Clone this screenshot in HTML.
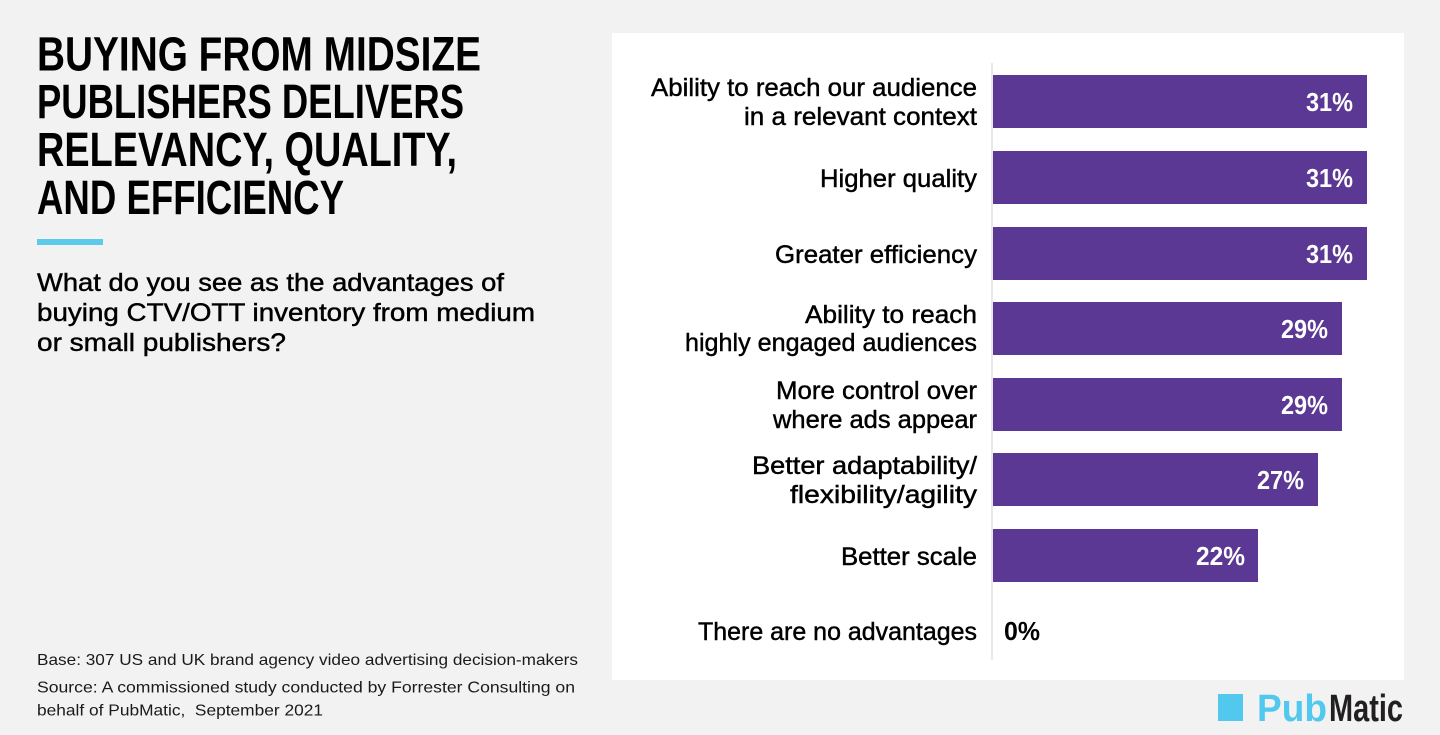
<!DOCTYPE html>
<html>
<head>
<meta charset="utf-8">
<style>
  html, body { margin: 0; padding: 0; background: #f1f2f1; }
  svg { display: block; }
  text { font-family: "Liberation Sans", Arial, sans-serif; }
</style>
</head>
<body>
<svg width="1440" height="735" viewBox="0 0 1440 735" xmlns="http://www.w3.org/2000/svg">
  <rect x="0" y="0" width="1440" height="735" fill="#f1f2f1"/>

  <!-- Title -->
  <g font-weight="bold" font-size="48" fill="#000">
    <text x="37" y="70.5" textLength="444" lengthAdjust="spacingAndGlyphs">BUYING FROM MIDSIZE</text>
    <text x="37" y="118" textLength="427" lengthAdjust="spacingAndGlyphs">PUBLISHERS DELIVERS</text>
    <text x="37" y="166" textLength="420" lengthAdjust="spacingAndGlyphs">RELEVANCY, QUALITY,</text>
    <text x="37" y="214" textLength="307" lengthAdjust="spacingAndGlyphs">AND EFFICIENCY</text>
  </g>

  <!-- Cyan accent -->
  <rect x="37" y="239" width="66" height="6" fill="#5ccbe9"/>

  <!-- Subtitle -->
  <g font-size="25" fill="#000" stroke="#000" stroke-width="0.45">
    <text x="37" y="291" textLength="467" lengthAdjust="spacingAndGlyphs">What do you see as the advantages of</text>
    <text x="37" y="321" textLength="498" lengthAdjust="spacingAndGlyphs">buying CTV/OTT inventory from medium</text>
    <text x="37" y="351" textLength="249" lengthAdjust="spacingAndGlyphs">or small publishers?</text>
  </g>

  <!-- Footnotes -->
  <g font-size="16" fill="#1a1a1a">
    <text x="37" y="665" textLength="541" lengthAdjust="spacingAndGlyphs">Base: 307 US and UK brand agency video advertising decision-makers</text>
    <text x="37" y="692.5" textLength="538" lengthAdjust="spacingAndGlyphs">Source: A commissioned study conducted by Forrester Consulting on</text>
    <text x="37" y="715.5" textLength="286" lengthAdjust="spacingAndGlyphs" xml:space="preserve">behalf of PubMatic,  September 2021</text>
  </g>

  <!-- White panel -->
  <rect x="612" y="33" width="792" height="647" fill="#ffffff"/>

  <!-- Axis line -->
  <rect x="991" y="63" width="2" height="597" fill="#e9e9e9"/>

  <!-- Bars -->
  <g fill="#5b3893">
    <rect x="993" y="75" width="374" height="53"/>
    <rect x="993" y="151" width="374" height="53"/>
    <rect x="993" y="227" width="374" height="53"/>
    <rect x="993" y="302" width="349" height="53"/>
    <rect x="993" y="378" width="349" height="53"/>
    <rect x="993" y="453" width="325" height="53"/>
    <rect x="993" y="529" width="265" height="53"/>
  </g>

  <!-- Values -->
  <g font-weight="bold" font-size="26" fill="#ffffff">
    <text x="1306" y="111" textLength="47" lengthAdjust="spacingAndGlyphs">31%</text>
    <text x="1306" y="187" textLength="47" lengthAdjust="spacingAndGlyphs">31%</text>
    <text x="1306" y="263" textLength="47" lengthAdjust="spacingAndGlyphs">31%</text>
    <text x="1281" y="338" textLength="47" lengthAdjust="spacingAndGlyphs">29%</text>
    <text x="1281" y="414" textLength="47" lengthAdjust="spacingAndGlyphs">29%</text>
    <text x="1257" y="489" textLength="47" lengthAdjust="spacingAndGlyphs">27%</text>
    <text x="1196" y="565" textLength="49" lengthAdjust="spacingAndGlyphs">22%</text>
  </g>
  <text x="1004" y="640" font-weight="bold" font-size="26" fill="#000" textLength="36" lengthAdjust="spacingAndGlyphs">0%</text>

  <!-- Category labels -->
  <g font-size="25" fill="#000" stroke="#000" stroke-width="0.45">
    <text x="651" y="96" textLength="326" lengthAdjust="spacingAndGlyphs">Ability to reach our audience</text>
    <text x="744" y="125" textLength="233" lengthAdjust="spacingAndGlyphs">in a relevant context</text>
    <text x="820" y="187" textLength="157" lengthAdjust="spacingAndGlyphs">Higher quality</text>
    <text x="775" y="263" textLength="202" lengthAdjust="spacingAndGlyphs">Greater efficiency</text>
    <text x="805" y="323" textLength="172" lengthAdjust="spacingAndGlyphs">Ability to reach</text>
    <text x="685" y="351" textLength="292" lengthAdjust="spacingAndGlyphs">highly engaged audiences</text>
    <text x="776" y="399" textLength="201" lengthAdjust="spacingAndGlyphs">More control over</text>
    <text x="773" y="428" textLength="204" lengthAdjust="spacingAndGlyphs">where ads appear</text>
    <text x="752" y="474" textLength="225" lengthAdjust="spacingAndGlyphs">Better adaptability/</text>
    <text x="790" y="503" textLength="187" lengthAdjust="spacingAndGlyphs">flexibility/agility</text>
    <text x="841" y="565" textLength="136" lengthAdjust="spacingAndGlyphs">Better scale</text>
    <text x="698" y="640" textLength="279" lengthAdjust="spacingAndGlyphs">There are no advantages</text>
  </g>

  <!-- PubMatic logo -->
  <rect x="1218" y="694" width="25" height="27" fill="#52c8ef"/>
  <text x="1257" y="721" font-weight="bold" font-size="38" fill="#52c8ef" textLength="70" lengthAdjust="spacingAndGlyphs">Pub</text>
  <text x="1329" y="721" font-weight="bold" font-size="38" fill="#231f20" textLength="74" lengthAdjust="spacingAndGlyphs">Matic</text>
</svg>
</body>
</html>
